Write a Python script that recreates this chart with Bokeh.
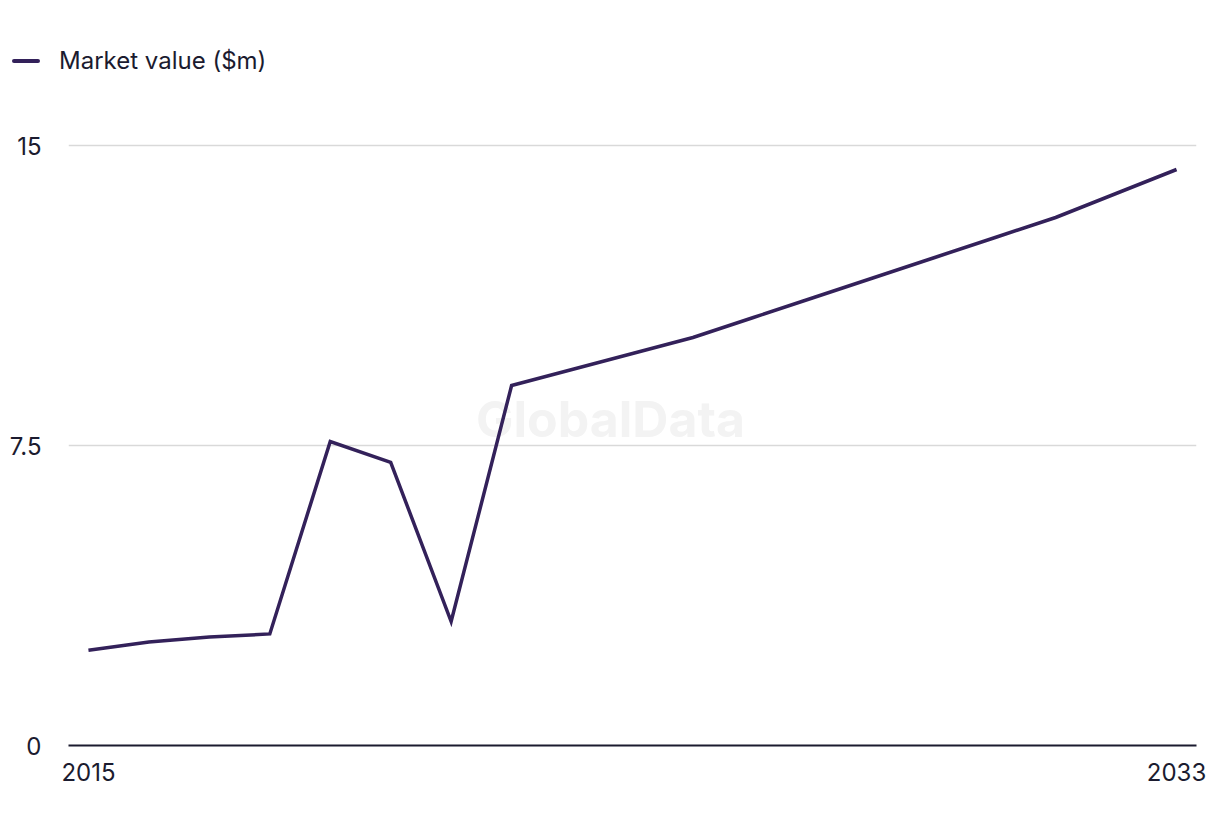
from bokeh.plotting import figure
from bokeh.layouts import column
from bokeh.models import FixedTicker, Range1d, Label, Div
from bokeh.embed import file_html
from bokeh.resources import INLINE

years = list(range(2015, 2034))
market_value = [2.38, 2.59, 2.71, 2.79, 7.6, 7.08, 3.1, 9.0, 9.4, 9.8, 10.2,
                10.7, 11.2, 11.7, 12.2, 12.7, 13.2, 13.8, 14.4]
series_name = "Market value ($m)"
x_ticks = [2015, 2033]
y_ticks = [0, 7.5, 15]
y_labels = {0: "0", 7.5: "7.5", 15: "15"}

FONT = "Inter"
TEXT = "#1b1b2f"
LINE = "#33215a"
LINE_W = 3.5

# ---- legend strip (top) ----
legend_html = (
    '<div style="position:relative;width:1212px;height:100px;">'
    f'<div style="position:absolute;left:12px;top:59px;width:28px;height:4px;'
    f'border-radius:2px;background:{LINE};"></div>'
    f'<div style="position:absolute;left:59px;top:47px;height:28px;line-height:28px;'
    f'font-family:{FONT};font-size:24px;color:{TEXT};white-space:nowrap;">'
    f'{series_name}</div></div>'
)
legend_div = Div(text=legend_html, width=1212, height=100, margin=0)

# ---- main chart ----
p = figure(width=1212, height=728, output_backend="svg", toolbar_location=None,
           x_range=Range1d(2014.67, 2033.33), y_range=Range1d(0, 15.3),
           min_border_left=68, min_border_right=16, min_border_top=33,
           min_border_bottom=83)
p.outline_line_color = None
p.background_fill_color = "white"
p.border_fill_color = "white"

r = p.line(years, market_value, line_color=LINE, line_width=LINE_W, line_join="miter")

p.xaxis.ticker = FixedTicker(ticks=x_ticks)
p.xaxis.axis_line_color = TEXT
p.xaxis.axis_line_width = 2
p.xaxis.major_tick_line_color = None
p.xaxis.major_tick_out = 0
p.xaxis.major_tick_in = 0
p.xaxis.minor_tick_line_color = None
p.xaxis.major_label_text_font = FONT
p.xaxis.major_label_text_font_size = "24px"
p.xaxis.major_label_text_color = TEXT
p.xaxis.major_label_standoff = 17

p.yaxis.ticker = FixedTicker(ticks=y_ticks)
p.yaxis.major_label_overrides = y_labels
p.yaxis.axis_line_color = None
p.yaxis.major_tick_line_color = None
p.yaxis.major_tick_out = 0
p.yaxis.major_tick_in = 0
p.yaxis.minor_tick_line_color = None
p.yaxis.major_label_text_font = FONT
p.yaxis.major_label_text_font_size = "24px"
p.yaxis.major_label_text_color = TEXT
p.yaxis.major_label_standoff = 27

p.xgrid.grid_line_color = None
p.ygrid.ticker = FixedTicker(ticks=[7.5, 15])
p.ygrid.grid_line_color = "#d9d9d9"
p.ygrid.grid_line_width = 1.5

wm = Label(x=542, y=327, x_units="screen", y_units="screen", text="GlobalData",
           text_font=FONT, text_font_style="bold", text_font_size="50px",
           text_color="#f3f3f3", text_align="center", text_baseline="middle",
           level="underlay")
p.add_layout(wm)

layout = column(legend_div, p, spacing=0)
open("out.html", "w").write(file_html(layout, INLINE))
